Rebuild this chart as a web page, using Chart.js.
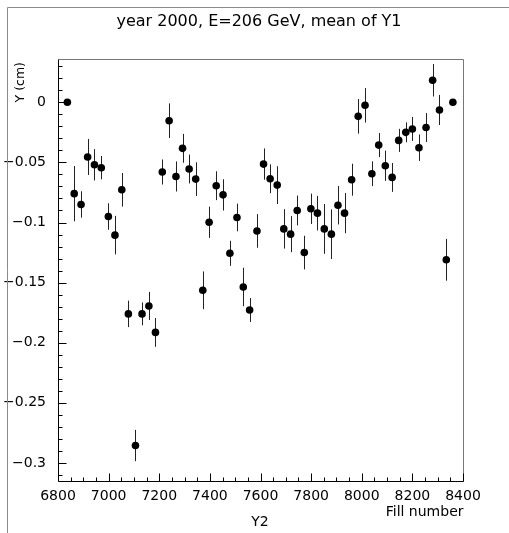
<!DOCTYPE html>
<html>
<head>
<meta charset="utf-8">
<script src="https://cdn.jsdelivr.net/npm/chart.js@4/dist/chart.umd.min.js"></script>
<style>
  body { margin: 0; background: #fff; }
  #wrap { width: 509px; height: 533px; }
</style>
</head>
<body>
<div id="wrap"><canvas id="grafico" width="509" height="533"></canvas></div>
<script>
// Dados
const fills = [6837, 6864, 6891, 6917, 6944, 6971, 6999, 7025, 7052, 7078,
  7106, 7132, 7159, 7185, 7212, 7239, 7266, 7292, 7318, 7344,
  7372, 7397, 7425, 7452, 7479, 7507, 7532, 7557, 7586, 7612,
  7638, 7666, 7692, 7719, 7745, 7773, 7799, 7825, 7852, 7880,
  7906, 7932, 7960, 7986, 8013, 8040, 8067, 8093, 8120, 8146,
  8174, 8200, 8226, 8254, 8280, 8307, 8334, 8360];
const meanY = [0, -0.076, -0.085, -0.0455, -0.052, -0.0544, -0.095, -0.1105, -0.0728, -0.176,
  -0.2855, -0.176, -0.1694, -0.1914, -0.058, -0.0153, -0.0617, -0.0383, -0.0555, -0.0639,
  -0.1564, -0.0998, -0.0694, -0.077, -0.1256, -0.0958, -0.1536, -0.1728, -0.107, -0.0514,
  -0.0636, -0.0689, -0.1053, -0.1097, -0.09, -0.125, -0.0886, -0.0922, -0.1053, -0.1097,
  -0.0856, -0.0922, -0.0644, -0.0117, -0.0025, -0.0594, -0.0356, -0.0528, -0.0625, -0.0317,
  -0.025, -0.0222, -0.0378, -0.021, 0.0183, -0.0064, -0.131, 0];
const errY = [0, 0.023, 0.011, 0.015, 0.013, 0.0097, 0.011, 0.016, 0.014, 0.011,
  0.013, 0.0095, 0.0117, 0.012, 0.0104, 0.0144, 0.0125, 0.012, 0.012, 0.014,
  0.0157, 0.013, 0.012, 0.013, 0.0104, 0.0115, 0.016, 0.01, 0.014, 0.013,
  0.012, 0.0157, 0.0164, 0.015, 0.0124, 0.014, 0.0126, 0.0144, 0.0207, 0.0206,
  0.016, 0.0167, 0.0133, 0.0144, 0.0143, 0.0103, 0.01, 0.0126, 0.012, 0.0096,
  0.0083, 0.01, 0.011, 0.012, 0.0135, 0.0125, 0.0174, 0];

// Eixos
const xTicks = [6800, 7000, 7200, 7400, 7600, 7800, 8000, 8200, 8400];
const yTicks = [0, -0.05, -0.1, -0.15, -0.2, -0.25, -0.3];
const xMinorStep = 50;
const yMinorStep = 0.01;

const FONTE = "DejaVu Sans";

const pontos = fills.map((f, i) => ({ x: f, y: meanY[i] }));

// 🔹 Barras de erro (desenhadas antes dos pontos)
const barrasErro = {
  id: "barrasErro",
  beforeDatasetsDraw(chart) {
    const { ctx, scales: { x, y } } = chart;
    ctx.save();
    ctx.strokeStyle = "#222";
    ctx.lineWidth = 1;
    fills.forEach((f, i) => {
      if (!errY[i]) return;
      const px = Math.round(x.getPixelForValue(f)) + 0.5;
      ctx.beginPath();
      ctx.moveTo(px, y.getPixelForValue(meanY[i] + errY[i]));
      ctx.lineTo(px, y.getPixelForValue(meanY[i] - errY[i]));
      ctx.stroke();
    });
    ctx.restore();
  }
};

// 🔹 Moldura, marcas internas e textos
const moldura = {
  id: "moldura",
  afterDraw(chart) {
    const { ctx, chartArea: a, scales: { x, y } } = chart;
    const L = Math.round(a.left) + 0.5, R = Math.round(a.right) + 0.5;
    const T = Math.round(a.top) + 0.5, B = Math.round(a.bottom) + 0.5;
    ctx.save();
    ctx.lineWidth = 1;

    // borda da página
    ctx.strokeStyle = "#8a8a8a";
    ctx.beginPath();
    ctx.moveTo(7.5, 533); ctx.lineTo(7.5, 7.5); ctx.lineTo(509, 7.5);
    ctx.stroke();

    // topo e direita
    ctx.strokeStyle = "#777";
    ctx.beginPath();
    ctx.moveTo(L, T); ctx.lineTo(R, T); ctx.lineTo(R, B);
    ctx.stroke();

    // eixos
    ctx.strokeStyle = "#000";
    ctx.beginPath();
    ctx.moveTo(L, T); ctx.lineTo(L, B); ctx.lineTo(R, B);
    ctx.stroke();

    // marcas do eixo x
    ctx.beginPath();
    for (let v = x.min; v <= x.max + 1e-6; v += xMinorStep) {
      const px = Math.round(x.getPixelForValue(v)) + 0.5;
      const maior = xTicks.includes(v);
      ctx.moveTo(px, B);
      ctx.lineTo(px, B - (maior ? 8 : 4));
    }
    // marcas do eixo y
    const yStart = Math.ceil(y.min / yMinorStep) * yMinorStep;
    for (let v = yStart; v <= y.max + 1e-9; v += yMinorStep) {
      const val = Math.round(v * 100) / 100;
      const py = Math.round(y.getPixelForValue(val)) + 0.5;
      const maior = yTicks.some(t => Math.abs(t - val) < 1e-9);
      ctx.moveTo(L, py);
      ctx.lineTo(L + (maior ? 8 : 4), py);
    }
    ctx.stroke();

    // textos
    ctx.fillStyle = "#000";
    ctx.font = `16px "${FONTE}"`;
    ctx.textAlign = "center";
    ctx.textBaseline = "alphabetic";
    ctx.fillText("year 2000, E=206 GeV, mean of Y1", 259, 26);

    ctx.font = `14px "${FONTE}"`;
    ctx.textAlign = "right";
    ctx.fillText("Fill number", R, 516);
    ctx.textAlign = "center";
    ctx.fillText("Y2", 260, 526);

    ctx.font = `12.5px "${FONTE}"`;
    ctx.translate(23.5, 62);
    ctx.rotate(-Math.PI / 2);
    ctx.textAlign = "right";
    ctx.fillText("Y (cm)", 0, 0);
    ctx.restore();
  }
};

new Chart(document.getElementById("grafico"), {
  type: "scatter",
  data: {
    datasets: [{
      data: pontos,
      backgroundColor: "#000",
      borderWidth: 0,
      pointRadius: 3.8,
      showLine: false
    }]
  },
  options: {
    responsive: false,
    animation: false,
    layout: { padding: { top: 59, right: 46, left: 0, bottom: 0 } },
    plugins: { legend: { display: false }, tooltip: { enabled: false }, title: { display: false } },
    scales: {
      x: {
        type: "linear",
        position: "bottom",
        min: 6800,
        max: 8400,
        grid: { display: false, drawTicks: false },
        border: { display: false },
        afterBuildTicks: s => { s.ticks = xTicks.map(v => ({ value: v })); },
        afterFit: s => { s.height = 52; },
        ticks: {
          color: "#000",
          font: { family: FONTE, size: 14 },
          padding: 7,
          maxRotation: 0,
          autoSkip: false,
          callback: v => String(v)
        }
      },
      y: {
        type: "linear",
        min: -0.315,
        max: 0.036,
        grid: { display: false, drawTicks: false },
        border: { display: false },
        afterBuildTicks: s => { s.ticks = yTicks.map(v => ({ value: v })); },
        afterFit: s => { s.width = 58; },
        ticks: {
          color: "#000",
          font: { family: FONTE, size: 14 },
          padding: 12,
          autoSkip: false,
          callback: v => (v === 0 ? "0" : "\u2212" + String(Math.abs(v)))
        }
      }
    }
  },
  plugins: [barrasErro, moldura]
});
</script>
</body>
</html>
